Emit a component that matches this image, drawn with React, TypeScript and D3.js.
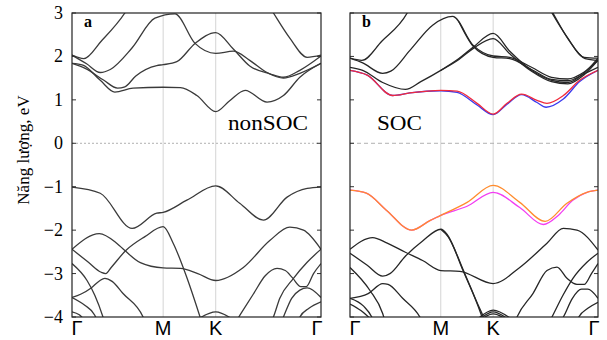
import React from "react";
import * as d3 from "d3";

// k-path: Γ - M - K - Γ (path length with |ΓM| = 1)
const kPoints = [0, 1, 1.577, 2.732];
const kLabels = ["Γ", "M", "K", "Γ"];
const energyTicks = [3, 2, 1, 0, -1, -2, -3, -4];

type Pt = [number, number];

// ---- panel a: nonSOC ----
const aCondA: Pt[] = [[0, 2.03], [0.13, 1.95], [0.32, 2.35], [0.58, 3.0], [0.64, 3.2]];
const aCond2: Pt[] = [[0, 2.03], [0.16, 1.83], [0.31, 1.63], [0.42, 1.7], [0.66, 2.2], [0.91, 2.88], [1.13, 2.98], [1.35, 2.3], [1.577, 2.07], [1.77, 2.12], [1.95, 1.91], [2.14, 1.63], [2.32, 1.5], [2.5, 1.61], [2.732, 1.84]];
const aCond3: Pt[] = [[0, 1.84], [0.15, 1.72], [0.35, 1.45], [0.5, 1.27], [0.58, 1.3], [0.7, 1.55], [0.93, 1.79], [1.0, 1.81], [1.15, 1.88], [1.35, 2.3], [1.577, 2.55], [1.77, 2.17], [1.95, 1.78], [2.17, 1.6], [2.32, 1.52], [2.5, 1.68], [2.732, 2.01]];
const aCond1: Pt[] = [[0, 1.84], [0.12, 1.8], [0.31, 1.45], [0.47, 1.18], [0.67, 1.27], [1.0, 1.29], [1.19, 1.28], [1.37, 1.1], [1.577, 0.73], [1.73, 0.98], [1.9, 1.22], [2.14, 0.95], [2.32, 1.1], [2.5, 1.52], [2.732, 1.84]];
const aCondTop: Pt[] = [[2.15, 3.2], [2.21, 3.0], [2.39, 2.42], [2.58, 1.98], [2.732, 2.03]];

const aVal1: Pt[] = [[0, -1.01], [0.31, -1.15], [0.66, -1.96], [0.93, -1.61], [1.0, -1.59], [1.26, -1.31], [1.577, -0.98], [1.84, -1.38], [2.1, -1.77], [2.36, -1.24], [2.58, -1.04], [2.732, -1.01]];
const aVal2: Pt[] = [[0, -2.44], [0.3, -2.08], [0.49, -2.3], [0.58, -2.47], [0.75, -2.75], [1.0, -2.87], [1.19, -2.88], [1.38, -3.0], [1.577, -3.16], [1.88, -2.86], [2.17, -2.24], [2.39, -1.93], [2.54, -2.0], [2.732, -2.44]];
const aVal3: Pt[] = [[0, -2.44], [0.18, -2.74], [0.32, -2.97], [0.37, -3.0], [0.43, -2.86], [0.59, -2.47], [0.8, -2.15], [1.0, -1.92], [1.11, -2.3], [1.26, -3.09], [1.405, -4.0], [1.45, -4.3]];
const aVal4: Pt[] = [[0, -2.77], [0.165, -3.16], [0.25, -3.5], [0.34, -4.0], [0.37, -4.2]];
const aVal5: Pt[] = [[0, -3.55], [0.1, -3.47], [0.21, -3.33], [0.3, -3.17], [0.36, -3.11], [0.44, -3.18], [0.56, -3.46], [0.78, -4.0], [0.82, -4.2]];
const aVal6: Pt[] = [[0, -3.55], [0.14, -3.73], [0.25, -3.96], [0.28, -4.1]];
const aVal7: Pt[] = [[0, -3.88], [0.08, -3.95], [0.13, -4.05]];
const aValK: Pt[] = [[1.38, -4.05], [1.577, -3.88], [1.76, -4.05]];
const aValQ: Pt[] = [[2.19, -4.1], [2.21, -4.0], [2.28, -3.57], [2.43, -3.11], [2.58, -2.74], [2.732, -2.44]];
const aValP: Pt[] = [[1.8, -4.1], [1.83, -4.0], [1.99, -3.47], [2.12, -3.05], [2.25, -2.88], [2.34, -2.93], [2.42, -3.1], [2.51, -3.3], [2.57, -3.3], [2.65, -3.0], [2.732, -2.77]];
const aValR: Pt[] = [[2.3, -4.1], [2.32, -4.0], [2.41, -3.57], [2.5, -3.38], [2.58, -3.33], [2.732, -3.55]];
const aValS: Pt[] = [[2.48, -4.1], [2.5, -4.0], [2.6, -3.8], [2.732, -3.65]];

const nonSocBands = [aCondA, aCond2, aCond3, aCond1, aCondTop, aVal1, aVal2, aVal3, aVal4, aVal5, aVal6, aVal7, aValK, aValQ, aValP, aValR, aValS];

// ---- panel b: SOC ----
const bCondA: Pt[] = [[0, 1.96], [0.13, 1.91], [0.35, 2.35], [0.63, 3.0], [0.68, 3.2]];
const bCond2: Pt[] = [[0, 1.96], [0.14, 1.85], [0.36, 1.61], [0.45, 1.66], [0.66, 2.14], [0.91, 2.72], [1.13, 2.92], [1.355, 2.26], [1.577, 2.01], [1.76, 1.98], [2.0, 1.75], [2.22, 1.52], [2.4, 1.48], [2.58, 1.64], [2.732, 1.91]];
const bCond2s: Pt[] = [[1.2, 2.8], [1.355, 2.24], [1.577, 1.98], [1.76, 1.95], [2.0, 1.7], [2.22, 1.47], [2.4, 1.44], [2.58, 1.6], [2.732, 1.75]];
const bCond3: Pt[] = [[0, 1.75], [0.14, 1.68], [0.36, 1.4], [0.61, 1.24], [0.78, 1.42], [1.0, 1.68], [1.2, 1.95], [1.355, 2.21], [1.577, 2.53], [1.76, 2.12], [2.0, 1.68], [2.22, 1.45], [2.4, 1.4], [2.58, 1.62], [2.732, 1.96]];
const bCond3s: Pt[] = [[1.0, 1.68], [1.2, 1.93], [1.355, 2.18], [1.577, 2.41], [1.76, 2.06], [2.0, 1.66], [2.22, 1.42], [2.4, 1.37], [2.58, 1.58], [2.732, 1.91]];
const bCondTop: Pt[] = [[2.17, 3.2], [2.225, 3.0], [2.39, 2.45], [2.58, 1.98], [2.732, 1.96]];
const bCondTops: Pt[] = [[2.18, 3.2], [2.235, 3.0], [2.4, 2.41], [2.59, 1.95], [2.732, 1.91]];
const bCondBlue: Pt[] = [[0, 1.68], [0.19, 1.57], [0.47, 1.1], [0.66, 1.16], [1.0, 1.21], [1.18, 1.17], [1.4, 0.88], [1.577, 0.66], [1.73, 0.9], [1.89, 1.12], [2.06, 0.94], [2.16, 0.83], [2.35, 1.02], [2.53, 1.42], [2.732, 1.68]];
const bCondRed: Pt[] = [[0, 1.68], [0.19, 1.57], [0.47, 1.1], [0.66, 1.16], [1.0, 1.22], [1.18, 1.2], [1.4, 0.92], [1.577, 0.67], [1.73, 0.92], [1.89, 1.13], [2.06, 0.99], [2.17, 0.92], [2.35, 1.1], [2.53, 1.45], [2.732, 1.68]];

const bValMagenta: Pt[] = [[0, -1.08], [0.18, -1.15], [0.4, -1.54], [0.68, -2.0], [0.88, -1.78], [1.0, -1.66], [1.29, -1.45], [1.577, -1.13], [1.87, -1.48], [2.13, -1.87], [2.3, -1.65], [2.45, -1.32], [2.61, -1.13], [2.732, -1.08]];
const bValOrange: Pt[] = [[0, -1.08], [0.18, -1.15], [0.4, -1.54], [0.68, -2.0], [0.88, -1.78], [1.0, -1.66], [1.29, -1.36], [1.577, -0.97], [1.87, -1.36], [2.15, -1.8], [2.39, -1.38], [2.61, -1.13], [2.732, -1.08]];
const bVal2: Pt[] = [[0, -2.44], [0.25, -2.17], [0.41, -2.3], [0.61, -2.51], [0.8, -2.7], [1.0, -2.93], [1.21, -2.95], [1.577, -3.23], [1.87, -2.86], [2.17, -2.3], [2.35, -1.96], [2.5, -2.0], [2.732, -2.46]];
const bVal3: Pt[] = [[0, -2.53], [0.19, -2.81], [0.36, -3.06], [0.44, -3.0], [0.61, -2.6], [0.8, -2.25], [1.0, -1.98], [1.07, -2.1], [1.245, -2.93], [1.4, -3.69], [1.454, -4.0], [1.5, -4.3]];
const bVal3s: Pt[] = [[1.0, -1.98], [1.08, -2.15], [1.26, -2.98], [1.41, -3.72], [1.47, -4.0], [1.52, -4.3]];
const bVal4: Pt[] = [[0, -2.86], [0.22, -3.39], [0.36, -3.92], [0.4, -4.2]];
const bVal5: Pt[] = [[0, -3.57], [0.2, -3.46], [0.36, -3.23], [0.42, -3.25], [0.58, -3.57], [0.77, -4.0], [0.82, -4.2]];
const bVal6: Pt[] = [[0, -3.57], [0.15, -3.75], [0.24, -4.0], [0.28, -4.2]];
const bVal7: Pt[] = [[0, -3.7], [0.12, -3.85], [0.23, -4.05]];
const bValK1: Pt[] = [[1.43, -4.05], [1.577, -3.88], [1.74, -4.05]];
const bValK2: Pt[] = [[1.43, -4.08], [1.577, -3.93], [1.74, -4.08]];
const bValK3: Pt[] = [[1.42, -4.02], [1.577, -3.84], [1.76, -4.02]];
const bValQ: Pt[] = [[2.2, -4.1], [2.225, -4.0], [2.346, -3.5], [2.456, -3.11], [2.61, -2.74], [2.732, -2.53]];
const bValP: Pt[] = [[1.82, -4.1], [1.84, -4.0], [2.015, -3.46], [2.17, -2.93], [2.28, -2.85], [2.39, -3.11], [2.5, -3.25], [2.58, -3.25], [2.66, -3.0], [2.732, -2.77]];
const bValR: Pt[] = [[2.32, -4.1], [2.35, -4.0], [2.45, -3.57], [2.55, -3.36], [2.62, -3.36], [2.732, -3.57]];
const bValS: Pt[] = [[2.5, -4.1], [2.52, -4.0], [2.62, -3.8], [2.732, -3.66]];

const socBlackBands = [bCondA, bCond2, bCond2s, bCond3, bCond3s, bCondTop, bCondTops, bVal2, bVal3, bVal3s, bVal4, bVal5, bVal6, bVal7, bValK1, bValK2, bValK3, bValQ, bValP, bValR, bValS];
const socColorBands: { pts: Pt[]; color: string }[] = [
  { pts: bCondBlue, color: "#3a3aee" },
  { pts: bCondRed, color: "#f02a3c" },
  { pts: bValMagenta, color: "#f23ef2" },
  { pts: bValOrange, color: "#ff8c2e" },
];

const W = 607;
const H = 340;
const top = 13;
const bottom = 317;
const y = d3.scaleLinear().domain([-4, 3]).range([bottom, top]);
const kMax = kPoints[kPoints.length - 1];

function Panel({ id, x0, x1, letter, tag, tagX, tagLen, dash, bands, colored, lineColor }: any) {
  const x = d3.scaleLinear().domain([0, kMax]).range([x0, x1]);
  const line = d3
    .line<Pt>()
    .x((d) => x(d[0]))
    .y((d) => y(d[1]))
    .curve(d3.curveMonotoneX);
  return (
    <g>
      <defs>
        <clipPath id={id}>
          <rect x={x0} y={top} width={x1 - x0} height={bottom - top} />
        </clipPath>
      </defs>
      {kPoints.slice(1, 3).map((k) => (
        <line key={k} x1={x(k)} x2={x(k)} y1={top} y2={bottom} stroke="#d4d4d4" strokeWidth={1} />
      ))}
      <line x1={x0} x2={x1} y1={y(0)} y2={y(0)} stroke="#b0b0b0" strokeWidth={1} strokeDasharray={dash} />
      <g clipPath={`url(#${id})`}>
        {bands.map((b: Pt[], i: number) => (
          <path key={i} d={line(b) || ""} fill="none" stroke={lineColor} strokeWidth={1.3} />
        ))}
        {colored.map((c: any, i: number) => (
          <path key={"c" + i} d={line(c.pts) || ""} fill="none" stroke={c.color} strokeWidth={1.3} />
        ))}
      </g>
      {energyTicks.map((t) => (
        <g key={t}>
          <line x1={x0} x2={x0 + 4} y1={y(t)} y2={y(t)} stroke="#333" />
          <line x1={x1 - 4} x2={x1} y1={y(t)} y2={y(t)} stroke="#333" />
        </g>
      ))}
      <rect x={x0} y={top} width={x1 - x0} height={bottom - top} fill="none" stroke="#222" strokeWidth={1.2} />
      <text x={x0 + 12} y={27} fontFamily="Liberation Serif, serif" fontWeight="bold" fontSize={16}>
        {letter}
      </text>
      <text x={tagX} y={130} fontFamily="Liberation Serif, serif" fontSize={20} textLength={tagLen} lengthAdjust="spacingAndGlyphs">
        {tag}
      </text>
      {kPoints.map((k, i) => {
        const off = i === 0 ? 5 : i === kPoints.length - 1 ? -4 : 0;
        return (
          <text key={i} x={x(k) + off} y={335} textAnchor="middle" fontFamily="Liberation Sans, Arial, sans-serif" fontSize={20}>
            {kLabels[i]}
          </text>
        );
      })}
    </g>
  );
}

export default function App() {
  return (
    <svg width={W} height={H} style={{ position: "fixed", left: 0, top: 0, background: "#fff" }}>
      <rect width={W} height={H} fill="#fff" />
      {energyTicks.map((t) => (
        <text key={t} x={63} y={y(t) + 6} textAnchor="end" fontFamily="Liberation Serif, serif" fontSize={18}>
          {t < 0 ? "−" + Math.abs(t) : t}
        </text>
      ))}
      <text
        transform={`translate(29,${150}) rotate(-90)`}
        textAnchor="middle"
        fontFamily="Liberation Serif, serif"
        fontSize={17}
      >
        Năng lượng, eV
      </text>
      <Panel id="clipA" x0={72} x1={321} letter="a" tag="nonSOC" tagX={228} tagLen={80} dash="2,2" bands={nonSocBands} colored={[]} lineColor="#3a3a3a" />
      <Panel id="clipB" x0={350} x1={598} letter="b" tag="SOC" tagX={377} tagLen={45} dash="4,3" bands={socBlackBands} colored={socColorBands} lineColor="#262626" />
    </svg>
  );
}
